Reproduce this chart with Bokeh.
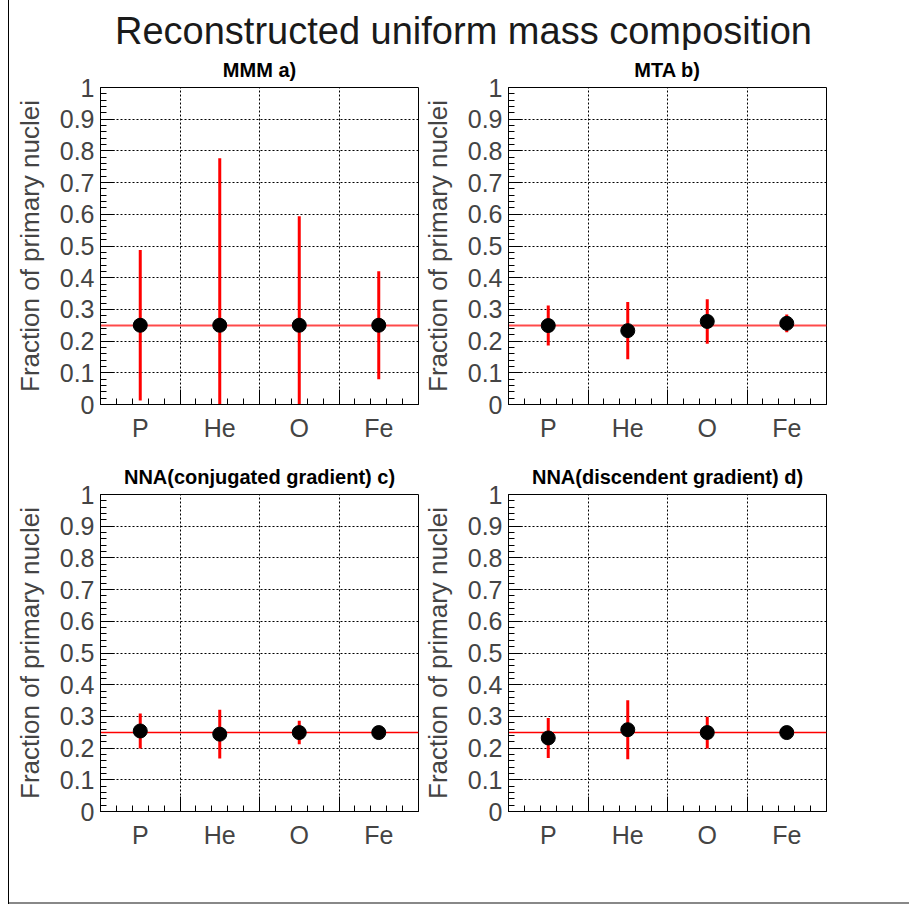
from bokeh.plotting import figure
from bokeh.models import (Range1d, LinearAxis, FixedTicker, Grid, Label, Spacer)
from bokeh.layouts import row, column
from bokeh.embed import file_html
from bokeh.resources import INLINE

# ---------------- data ----------------
main_title = "Reconstructed uniform mass composition"
panel_titles = ["MMM a)", "MTA b)", "NNA(conjugated gradient) c)", "NNA(discendent gradient) d)"]
categories = ["P", "He", "O", "Fe"]
expected_fraction = 0.25

mmm_values = [0.25, 0.25, 0.25, 0.25]
mmm_errors = [0.237, 0.527, 0.344, 0.170]

mta_values = [0.249, 0.233, 0.262, 0.256]
mta_errors = [0.063, 0.090, 0.070, 0.028]

nna_cg_values = [0.254, 0.244, 0.249, 0.249]
nna_cg_errors = [0.055, 0.077, 0.037, 0.012]

nna_dg_values = [0.232, 0.258, 0.249, 0.249]
nna_dg_errors = [0.063, 0.093, 0.050, 0.012]

y_tick_values = [0, 0.1, 0.2, 0.3, 0.4, 0.5, 0.6, 0.7, 0.8, 0.9, 1]
y_tick_labels = ["0", "0.1", "0.2", "0.3", "0.4", "0.5", "0.6", "0.7", "0.8", "0.9", "1"]
y_axis_label = "Fraction of primary nuclei"

FONT = "Liberation Sans"

bin_edges = list(range(len(categories) + 1))
cat_pos = [i + 0.5 for i in range(len(categories))]
x_minor = [round(i * 0.2, 1) for i in range(len(categories) * 5 + 1) if i % 5]
y_minor = [round(i * 0.02, 2) for i in range(51) if i % 5]


def make_panel(title, values, errors, width, bl, br, ref_color, ref_width):
    p = figure(width=width, height=407, x_range=Range1d(0, 4), y_range=Range1d(0, 1),
               x_axis_type=None, y_axis_type=None, output_backend="svg",
               toolbar_location=None, min_border_left=bl, min_border_right=br,
               min_border_top=37, min_border_bottom=53, title=title)
    p.outline_line_color = "black"
    p.outline_line_width = 1
    p.background_fill_color = "white"
    p.border_fill_color = "white"
    p.title.align = "center"
    p.title.text_font = FONT
    p.title.text_font_size = "20px"
    p.title.text_font_style = "bold"
    p.title.text_color = "black"
    p.title.standoff = 13

    # grids
    p.add_layout(Grid(dimension=0, ticker=FixedTicker(ticks=bin_edges[1:-1]),
                      grid_line_color="black", grid_line_dash="2 2", grid_line_width=1))
    p.add_layout(Grid(dimension=1, ticker=FixedTicker(ticks=y_tick_values[1:-1]),
                      grid_line_color="black", grid_line_dash="2 2", grid_line_width=1))

    # y axis
    yax = LinearAxis(ticker=FixedTicker(ticks=y_tick_values, minor_ticks=y_minor),
                     major_label_overrides=dict(zip(y_tick_values, y_tick_labels)),
                     axis_label=y_axis_label,
                     axis_label_text_font=FONT, axis_label_text_font_size="26px",
                     axis_label_text_font_style="normal", axis_label_standoff=12,
                     major_label_text_font=FONT, major_label_text_font_size="25px",
                     major_label_standoff=6,
                     major_tick_in=14, major_tick_out=0, minor_tick_in=6, minor_tick_out=0,
                     axis_line_color="black", major_tick_line_color="black",
                     minor_tick_line_color="black")
    p.add_layout(yax, "left")

    # x axis: bin edge ticks
    xax = LinearAxis(ticker=FixedTicker(ticks=bin_edges, minor_ticks=x_minor),
                     major_label_text_font_size="1px", major_label_standoff=0,
                     major_label_text_alpha=0,
                     major_tick_in=15, major_tick_out=0, minor_tick_in=6, minor_tick_out=0,
                     axis_line_color="black", major_tick_line_color="black",
                     minor_tick_line_color="black")
    p.add_layout(xax, "below")
    # x axis: category labels
    xlab = LinearAxis(ticker=FixedTicker(ticks=cat_pos),
                      major_label_overrides=dict(zip(cat_pos, categories)),
                      major_label_text_font=FONT, major_label_text_font_size="25px",
                      major_label_standoff=3,
                      axis_line_color=None, major_tick_line_color=None,
                      minor_tick_line_color=None)
    p.add_layout(xlab, "below")

    p.hspan(y=[expected_fraction], line_color=ref_color, line_width=ref_width)
    lower = [v - e for v, e in zip(values, errors)]
    upper = [v + e for v, e in zip(values, errors)]
    p.segment(x0=cat_pos, y0=lower, x1=cat_pos, y1=upper, line_color="red", line_width=3)
    p.scatter(x=cat_pos, y=values, size=14, fill_color="black", line_color="black")
    return p


pa = make_panel(panel_titles[0], mmm_values, mmm_errors, 410, 91, 1, "#ff4a4a", 2)
pb = make_panel(panel_titles[1], mta_values, mta_errors, 490, 89, 83, "#ff4a4a", 2)
pc = make_panel(panel_titles[2], nna_cg_values, nna_cg_errors, 410, 91, 1, "red", 1.4)
pd = make_panel(panel_titles[3], nna_dg_values, nna_dg_errors, 490, 89, 83, "red", 1.4)

# main title strip
tf = figure(width=900, height=50, x_range=Range1d(0, 900), y_range=Range1d(0, 50),
            x_axis_type=None, y_axis_type=None, output_backend="svg",
            toolbar_location=None, min_border=0, title_location=None)
tf.outline_line_color = None
tf.add_layout(Label(x=454, y=20, text=main_title, text_align="center",
                    text_baseline="middle", text_font=FONT, text_font_size="38px",
                    text_color="#1a1a1a"))

content = column(tf, row(pa, pb), row(pc, pd), Spacer(width=900, height=38),
                 Spacer(width=900, height=2, styles={"background-color": "#888888"}))
layout = row(Spacer(width=8, height=904),
             Spacer(width=1, height=904, styles={"background-color": "#000000"}),
             content)

open("out.html", "w").write(file_html(layout, INLINE))
